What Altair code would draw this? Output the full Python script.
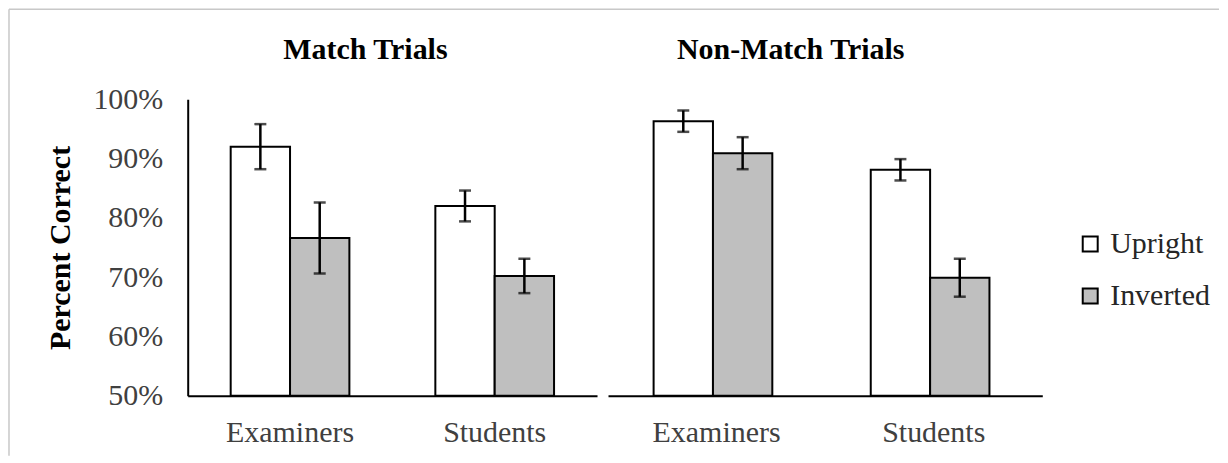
import altair as alt
import pandas as pd

# ---- data ----
groups = ["Examiners", "Students"]
conditions = ["Upright", "Inverted"]
row_groups = ["Examiners", "Examiners", "Students", "Students"]
row_conditions = ["Upright", "Inverted", "Upright", "Inverted"]
match_means = [0.920, 0.766, 0.820, 0.702]
match_errs = [0.038, 0.060, 0.026, 0.029]
nonmatch_means = [0.963, 0.909, 0.881, 0.699]
nonmatch_errs = [0.018, 0.027, 0.018, 0.032]
y_ticks = [0.5, 0.6, 0.7, 0.8, 0.9, 1.0]
bar_colors = ["#ffffff", "#bfbfbf"]

FONT = "Liberation Serif"
FS = 30
H = 297
FRAME = "#c8c8c8"


def make_df(means, errs):
    return pd.DataFrame({
        "group": row_groups,
        "condition": row_conditions,
        "mean": means,
        "lo": [m - e for m, e in zip(means, errs)],
        "hi": [m + e for m, e in zip(means, errs)],
    })


one = pd.DataFrame({"k": [0]})


def panel(df, width, title, title_x, show_y, legend, frame):
    yscale = alt.Scale(domain=[0.5, 1.0], nice=False, zero=False)
    if show_y:
        yaxis = alt.Axis(values=y_ticks, format=".0%", title="Percent Correct",
                         titleFontWeight="bold", titleFontSize=FS, titleColor="black",
                         titleFont=FONT, labelPadding=25, titlePadding=17,
                         domain=True)
    else:
        yaxis = None
    xenc = alt.X("group:N", sort=groups,
                 scale=alt.Scale(paddingInner=0.42, paddingOuter=0.21),
                 axis=alt.Axis(title=None, labelAngle=0, labelPadding=22))
    xoff = alt.XOffset("condition:N", sort=conditions,
                       scale=alt.Scale(paddingInner=0, paddingOuter=0))
    base = alt.Chart(df).encode(x=xenc, xOffset=xoff)
    bars = base.mark_bar(stroke="black", strokeWidth=2).encode(
        y=alt.Y("mean:Q", scale=yscale, axis=yaxis),
        y2=alt.datum(0.5),
        color=alt.Color("condition:N", sort=conditions,
                        scale=alt.Scale(domain=conditions, range=bar_colors),
                        legend=legend),
    )
    err = base.mark_rule(color="black", strokeWidth=2.5).encode(
        y=alt.Y("lo:Q", scale=yscale, axis=yaxis), y2="hi:Q")
    cap_lo = base.mark_tick(color="black", thickness=2.5, size=12).encode(
        y=alt.Y("lo:Q", scale=yscale, axis=yaxis))
    cap_hi = base.mark_tick(color="black", thickness=2.5, size=12).encode(
        y=alt.Y("hi:Q", scale=yscale, axis=yaxis))
    ttl = alt.Chart(one).mark_text(text=title, font=FONT, fontSize=FS,
                                   fontWeight="bold", color="black",
                                   baseline="alphabetic", align="center").encode(
        x=alt.value(title_x), y=alt.value(-40))
    layers = [bars, err, cap_lo, cap_hi, ttl]
    if frame:
        top_frame = alt.Chart(one).mark_rule(color=FRAME, strokeWidth=1.5).encode(
            x=alt.value(-179), x2=alt.value(1033), y=alt.value(-90))
        left_frame = alt.Chart(one).mark_rule(color=FRAME, strokeWidth=1.5).encode(
            x=alt.value(-179), y=alt.value(-90), y2=alt.value(357))
        layers = [top_frame, left_frame] + layers
    return alt.layer(*layers).properties(width=width, height=H)


legend = alt.Legend(title=None, orient="none", legendX=468, legendY=130,
                    labelFont=FONT, labelFontSize=FS, labelColor="#262626",
                    symbolType="square", symbolSize=225, symbolStrokeColor="black",
                    symbolStrokeWidth=2, rowPadding=22, labelOffset=5, padding=0)

p1 = panel(make_df(match_means, match_errs), 410, "Match Trials", 178,
           True, None, True)
p2 = panel(make_df(nonmatch_means, nonmatch_errs), 435, "Non-Match Trials", 183,
           False, legend, False)

chart = alt.hconcat(p1, p2, spacing=11, bounds="flush").resolve_scale(
    x="independent", y="independent", color="independent"
).configure(padding=0).configure_view(stroke=None).configure_axis(
    grid=False, ticks=False, domainColor="black", domainWidth=2,
    labelFont=FONT, labelFontSize=FS, labelColor="#404040",
)

chart.save("out.html", embed_options={"renderer": "svg", "actions": False})
